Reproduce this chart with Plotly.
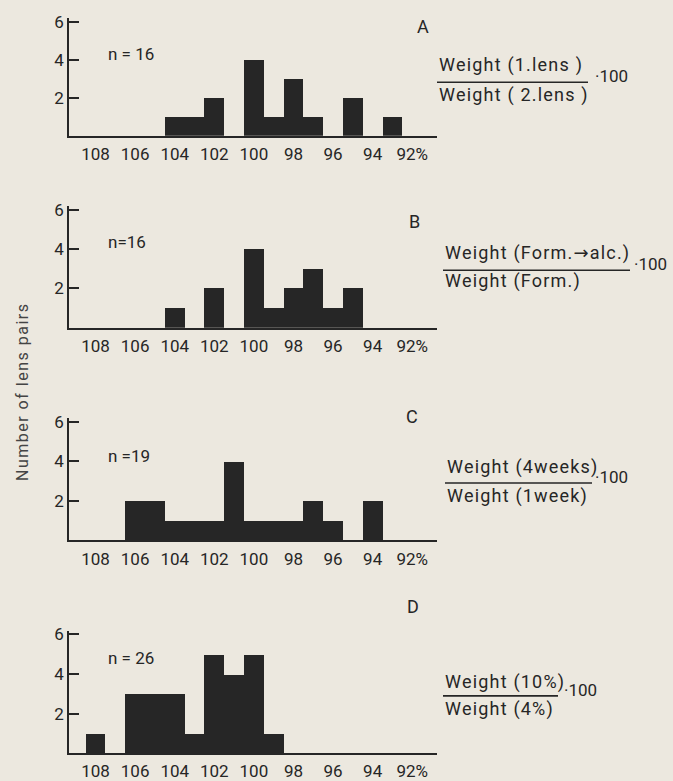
import plotly.graph_objects as go

# ---- data ----
centers_A = [104, 103, 102, 100, 99, 98, 97, 95, 93]
counts_A = [1, 1, 2, 4, 1, 3, 1, 2, 1]
centers_B = [104, 102, 100, 99, 98, 97, 96, 95]
counts_B = [1, 2, 4, 1, 2, 3, 1, 2]
centers_C = [106, 105, 104, 103, 102, 101, 100, 99, 98, 97, 96, 94]
counts_C = [2, 2, 1, 1, 1, 4, 1, 1, 1, 2, 1, 2]
centers_D = [108, 106, 105, 104, 103, 102, 101, 100, 99]
counts_D = [1, 3, 3, 3, 1, 5, 4, 5, 1]

x_tickvals = [108, 106, 104, 102, 100, 98, 96, 94, 92]
x_ticktext = ["108", "106", "104", "102", "100", "98", "96", "94", "92%"]
y_tickvals = [2, 4, 6]

panel_letters = ["A", "B", "C", "D"]
n_labels = ["n = 16", "n=16", "n =19", "n = 26"]
numerators = ["Weight (1.lens )", "Weight (Form.→alc.)", "Weight (4weeks)", "Weight (10%)"]
denominators = ["Weight ( 2.lens )", "Weight (Form.)", "Weight (1week)", "Weight (4%)"]

W, H = 673, 781
BG = "#ece8df"
INK = "#262626"
FONT = "Roboto, DejaVu Sans, sans-serif"
TXT_DY = 3  # annotation middle-anchor correction (px)

def px(x):
    return x / W

def py(y):
    return 1 - y / H

def pyt(y):
    return 1 - (y - TXT_DY) / H

def spaced(t, s):
    return '<span style="letter-spacing:%spx">%s</span>' % (s, t)

# panel geometry in pixels: (top, baseline)
panels = [(12, 131), (202, 325), (416, 540), (631, 755)]
x_left, x_right = 69, 437
x_range = [109.34, 90.75]
y_range = [0, 6.2]

fig = go.Figure()
series = [(centers_A, counts_A), (centers_B, counts_B), (centers_C, counts_C), (centers_D, counts_D)]

for i, (cx, cy) in enumerate(series):
    k = "" if i == 0 else str(i + 1)
    fig.add_trace(go.Bar(x=cx, y=cy, width=1.0, xaxis="x" + k, yaxis="y" + k,
                         marker=dict(color=INK, line=dict(width=0)), showlegend=False,
                         hoverinfo="skip"))
    top, base = panels[i]
    fig.layout["xaxis" + k] = dict(
        domain=[px(x_left), px(x_right)], anchor="y" + k, range=x_range,
        showline=True, linecolor=INK, linewidth=1.6, ticks="", showgrid=False, zeroline=False,
        tickvals=x_tickvals, ticktext=x_ticktext, tickfont=dict(family=FONT, size=17, color=INK),
        ticklabelstandoff=2,
    )
    fig.layout["yaxis" + k] = dict(
        domain=[py(base), py(top)], anchor="x" + k, range=y_range,
        showline=True, linecolor=INK, linewidth=1.6, ticks="inside", ticklen=10, tickwidth=1.5,
        tickcolor=INK, showgrid=False, zeroline=False, tickvals=y_tickvals,
        tickfont=dict(family=FONT, size=17, color=INK),
    )

annotations = []
n_pos = [(106, 52), (106, 241), (106, 458), (106, 662)]
letter_pos = [(423, 24), (414, 221), (412, 418), (413, 610)]
frac = [  # (left x, numerator y, line y, denominator y, line right, dot100 x)
    (437, 63, 77, 93, 588, 593),
    (443, 253, 267, 281, 630, 632),
    (445, 469, 482, 498, 592, 593),
    (443, 686, 697, 713, 558, 562),
]
shapes = []
for i in range(4):
    annotations.append(dict(x=px(n_pos[i][0]), y=pyt(n_pos[i][1]), xref="paper", yref="paper",
                            text=n_labels[i], showarrow=False, xanchor="left", yanchor="middle",
                            font=dict(family=FONT, size=17, color=INK)))
    annotations.append(dict(x=px(letter_pos[i][0]), y=pyt(letter_pos[i][1]), xref="paper", yref="paper",
                            text=panel_letters[i], showarrow=False, xanchor="center", yanchor="middle",
                            font=dict(family=FONT, size=18, color=INK)))
    lx, ny, ly, dy, lr, dx = frac[i]
    annotations.append(dict(x=px(lx), y=pyt(ny), xref="paper", yref="paper", text=spaced(numerators[i], 1.2),
                            showarrow=False, xanchor="left", yanchor="middle",
                            font=dict(family=FONT, size=18, color=INK)))
    annotations.append(dict(x=px(lx), y=pyt(dy), xref="paper", yref="paper", text=spaced(denominators[i], 1.2),
                            showarrow=False, xanchor="left", yanchor="middle",
                            font=dict(family=FONT, size=18, color=INK)))
    annotations.append(dict(x=px(dx), y=pyt(ly - 3), xref="paper", yref="paper", text="·100",
                            showarrow=False, xanchor="left", yanchor="middle",
                            font=dict(family=FONT, size=17, color=INK)))
    shapes.append(dict(type="line", xref="paper", yref="paper", x0=px(lx), x1=px(lr),
                       y0=py(ly), y1=py(ly), line=dict(color=INK, width=1.6)))

annotations.append(dict(x=px(22), y=py(390), xref="paper", yref="paper",
                        text=spaced("Number of lens pairs", 1.5),
                        showarrow=False, textangle=-90, xanchor="center", yanchor="middle",
                        font=dict(family=FONT, size=16, color="#444")))

fig.update_layout(
    width=W, height=H, margin=dict(l=0, r=0, t=0, b=0),
    paper_bgcolor=BG, plot_bgcolor=BG, bargap=0,
    annotations=annotations, shapes=shapes,
)

fig.write_html("out.html", config={"displayModeBar": False},
               post_script="document.body.style.margin='0';document.body.style.overflow='hidden';")
